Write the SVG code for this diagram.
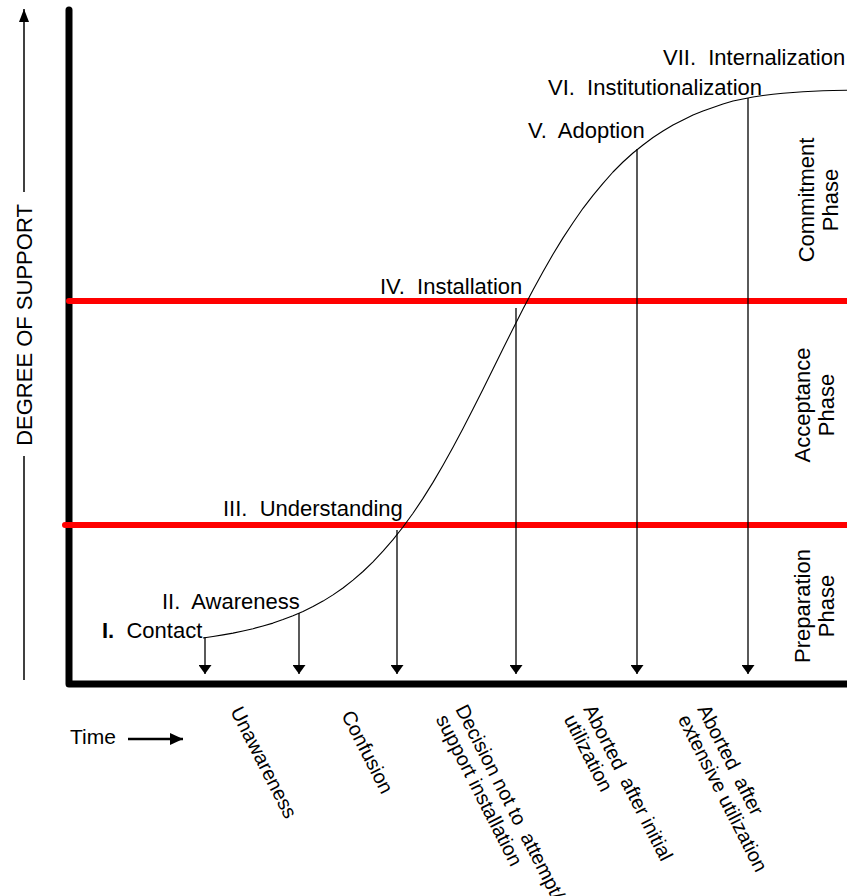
<svg xmlns="http://www.w3.org/2000/svg" width="847" height="896" viewBox="0 0 847 896">
<style>
text { font-family: "Liberation Sans", Arial, sans-serif; fill: #000; white-space: pre; }
.stage { font-size: 22px; }
.outcome { font-size: 20px; }
.phase { font-size: 22px; text-anchor: middle; }
.axis { fill: none; stroke: #000; stroke-width: 7; stroke-linecap: round; stroke-linejoin: round; }
.red { fill: none; stroke: #ff0000; stroke-width: 6; stroke-linecap: round; }
.drop { fill: none; stroke: #000; stroke-width: 1.3; marker-end: url(#ah); }
.thin { fill: none; stroke: #000; stroke-width: 1.5; }
.curve { fill: none; stroke: #000; stroke-width: 1.1; stroke-linejoin: round; }
</style>
<defs>
<marker id="ah" markerWidth="9" markerHeight="13" refX="9" refY="6.5" orient="auto" markerUnits="userSpaceOnUse"><path d="M0,0 L9,6.5 L0,13 Z" fill="#000"/></marker>
<marker id="ah2" markerWidth="13" markerHeight="10" refX="13" refY="5" orient="auto" markerUnits="userSpaceOnUse"><path d="M0,0 L13,5 L0,10 Z" fill="#000"/></marker>
<marker id="ah3" markerWidth="13" markerHeight="12" refX="13" refY="6" orient="auto" markerUnits="userSpaceOnUse"><path d="M0,0 L13,6 L0,12 Z" fill="#000"/></marker>
</defs>
<rect width="847" height="896" fill="#fff"/>

<g id="axes">
<path class="axis" d="M69,10 L69,684 L850,684"/>
</g>

<g id="phase-boundaries">
<line class="red" x1="69" y1="301" x2="852" y2="301"/>
<line class="red" x1="65" y1="525" x2="852" y2="525"/>
</g>

<g id="y-axis-label">
<line class="thin" x1="24" y1="680" x2="24" y2="456"/>
<line class="thin" x1="24" y1="192" x2="24" y2="9" style="marker-end:url(#ah2)"/>
<text transform="translate(32,325) rotate(-90)" style="font-size:22px;text-anchor:middle">DEGREE OF SUPPORT</text>
</g>

<g id="time-label">
<text x="70" y="744" style="font-size:21px">Time</text>
<line class="thin" x1="128" y1="739" x2="183" y2="739" style="stroke-width:2.5;marker-end:url(#ah3)"/>
</g>

<g id="connectors">
<path class="curve" d="M203,638 L213,636.5 L223,634.9 L233,633.1 L243,631 L253,628.7 L263,626 L273,623.1 L283,619.6 L293,615.8 L303,611.5 L313,606.6 L323,601.1 L333,594.9 L343,588 L353,580.1 L363,571.5 L373,561.8 L383,551.2 L393,539.7 L403,527 L413,513.3 L423,498.4 L433,482.4 L443,465.3 L453,447.3 L463,428.5 L473,409.1 L483,389.2 L493,369.1 L503,348.8 L513,328.8 L523,309.1 L533,290.1 L543,271.8 L553,254.3 L563,237.9 L573,222.7 L583,208.3 L593,195.3 L603,183.3 L613,172 L623,162 L633,153 L643,145 L653,137.5 L663,131 L673,125 L683,120 L693,115 L703,111 L713,107.5 L723,104 L733,101 L743,99 L753,97 L763,95.5 L773,94.3 L783,93.3 L793,92.5 L803,91.8 L813,91.2 L823,90.8 L833,90.5 L847,90.2"/>
<line class="drop" x1="205" y1="637" x2="205" y2="674"/>
<line class="drop" x1="299" y1="613" x2="299" y2="674"/>
<line class="drop" x1="397" y1="530" x2="397" y2="674"/>
<line class="drop" x1="516" y1="308" x2="516" y2="674"/>
<line class="drop" x1="637" y1="149" x2="637" y2="674"/>
<line class="drop" x1="748" y1="98" x2="748" y2="674"/>
</g>

<g id="stage-1"><text class="stage" x="102" y="638"><tspan font-weight="bold">I.</tspan>  Contact</text></g>
<g id="stage-2"><text class="stage" x="162" y="609">II.  Awareness</text></g>
<g id="stage-3"><text class="stage" x="223" y="516">III.  Understanding</text></g>
<g id="stage-4"><text class="stage" x="380" y="294">IV.  Installation</text></g>
<g id="stage-5"><text class="stage" x="528" y="138">V.  Adoption</text></g>
<g id="stage-6"><text class="stage" x="548" y="95">VI.  Institutionalization</text></g>
<g id="stage-7"><text class="stage" x="663" y="65">VII.  Internalization</text></g>

<g id="outcome-unawareness"><text class="outcome" transform="translate(230,711) rotate(63)">Unawareness</text></g>
<g id="outcome-confusion"><text class="outcome" transform="translate(341,715) rotate(63)">Confusion</text></g>
<g id="outcome-decision"><text class="outcome" transform="translate(455,709) rotate(63)"><tspan x="0" y="0">Decision not to  attempt/</tspan><tspan x="0" y="22">support installation</tspan></text></g>
<g id="outcome-initial"><text class="outcome" transform="translate(583,709) rotate(63)"><tspan x="0" y="0">Aborted  after initial</tspan><tspan x="0" y="22">utilization</tspan></text></g>
<g id="outcome-extensive"><text class="outcome" transform="translate(697,709) rotate(63)"><tspan x="0" y="0">Aborted  after</tspan><tspan x="0" y="22">extensive utilization</tspan></text></g>

<g id="phase-commitment"><text class="phase" transform="translate(814,200) rotate(-90)"><tspan x="0" y="0">Commitment</tspan><tspan x="0" y="24">Phase</tspan></text></g>
<g id="phase-acceptance"><text class="phase" transform="translate(810,405) rotate(-90)"><tspan x="0" y="0">Acceptance</tspan><tspan x="0" y="24">Phase</tspan></text></g>
<g id="phase-preparation"><text class="phase" transform="translate(810,606) rotate(-90)"><tspan x="0" y="0">Preparation</tspan><tspan x="0" y="24">Phase</tspan></text></g>
</svg>
